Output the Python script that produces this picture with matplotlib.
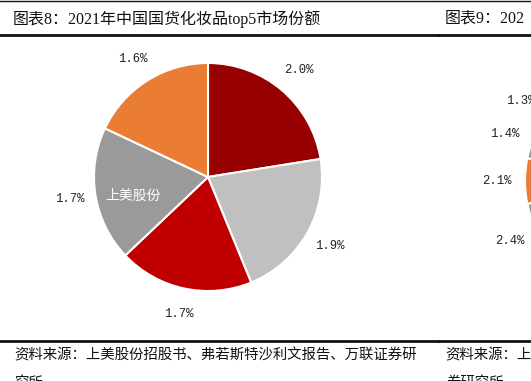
import matplotlib
matplotlib.use("Agg")
import matplotlib.pyplot as plt
from matplotlib.lines import Line2D

# ---- data ----
shares = [2.0, 1.9, 1.7, 1.7, 1.6]
names = ["", "", "", "上美股份", ""]
colors = ["#960000", "#C0C0C0", "#C00000", "#9A9A9A", "#EA7C34"]

# partially visible neighbouring chart (figure 9), only left edge visible
right_shares = [1.3, 1.4, 2.1, 2.4]
right_rest = 25.5  # off-canvas remainder (estimated)
right_colors = ["#C0C0C0", "#9A9A9A", "#EA7C34", "#9A9A9A", "#C00000"]

title_text = "图表8：2021年中国国货化妆品top5市场份额"
title2_text = "图表9：202"
source_line1 = "资料来源：上美股份招股书、弗若斯特沙利文报告、万联证券研"
source_line2 = "究所"
source2_line1 = "资料来源：上美股份招股书、弗若斯特沙利文报告"
source2_line2 = "券研究所"

W, H = 531, 381
fig = plt.figure(figsize=(W / 100, H / 100), dpi=100)
fig.patch.set_facecolor("white")

title_font = ["Liberation Serif", "Noto Sans CJK SC"]
cjk_font = ["Noto Sans CJK SC", "DejaVu Sans"]
lab_font = ["Liberation Mono", "DejaVu Sans Mono"]

def fx(px):
    return px / W

def fy(py):
    return 1 - py / H

# ---- rules ----
for (y, lw) in [(1, 1.0), (34.8, 2.0), (341.3, 2.0)]:
    fig.add_artist(Line2D([0, fx(437.5)], [fy(y), fy(y)], color="#111111", lw=lw))
    fig.add_artist(Line2D([fx(438.8), 1], [fy(y), fy(y)], color="#111111", lw=lw))

# ---- titles ----
fig.text(fx(13), fy(19), title_text, fontsize=11.5, family=title_font,
         ha="left", va="center", color="#111111")
fig.text(fx(445), fy(19), title2_text, fontsize=11.5, family=title_font,
         ha="left", va="center", color="#111111")

# ---- source ----
src_kw = dict(fontsize=10.4, family=cjk_font, ha="left", va="center",
              color="#111111", style="italic")
fig.text(fx(14), fy(355), source_line1, **src_kw)
fig.text(fx(14), fy(383), source_line2, **src_kw)
fig.text(fx(445), fy(355), source2_line1, **src_kw)
fig.text(fx(447), fy(383), source2_line2, **src_kw)

# ---- main pie ----
cx, cy, R = 208, 177, 114
ax = fig.add_axes([fx(cx - R), fy(cy + R), 2 * R / W, 2 * R / H])
total = sum(shares)
wedges, texts, autotexts = ax.pie(
    shares, labels=names, colors=colors, startangle=90, counterclock=False,
    labeldistance=0.67, pctdistance=1.23,
    autopct=lambda p: f"{p * total / 100:.1f}%",
    wedgeprops=dict(edgecolor="white", linewidth=1.5),
    textprops=dict(fontsize=8.8),
)
for t in texts:
    t.set_ha("center")
    t.set_va("top")
    t.set_color("white")
    t.set_family(cjk_font)
    t.set_fontsize(10)
for t in autotexts:
    t.set_family(lab_font)
    t.set_color("#222222")
ax.set_xlim(-1, 1)
ax.set_ylim(-1, 1)
ax.set_aspect("equal")
ax.axis("off")

# ---- partial neighbouring pie ----
cx2, cy2 = 639, 181
ax2 = fig.add_axes([fx(cx2 - R), fy(cy2 + R), 2 * R / W, 2 * R / H])
vals2 = right_shares + [right_rest]
tot2 = sum(vals2)
w2, t2, a2 = ax2.pie(
    vals2, colors=right_colors, startangle=138.8, counterclock=True,
    pctdistance=1.25,
    autopct=lambda p: (f"{p * tot2 / 100:.1f}%" if p * tot2 / 100 < 5 else ""),
    wedgeprops=dict(edgecolor="white", linewidth=1.5),
    textprops=dict(fontsize=8.8),
)
for t in a2:
    t.set_family(lab_font)
    t.set_color("#222222")
ax2.set_xlim(-1, 1)
ax2.set_ylim(-1, 1)
ax2.set_aspect("equal")
ax2.axis("off")

fig.savefig("out.png", dpi=100, facecolor="white")
